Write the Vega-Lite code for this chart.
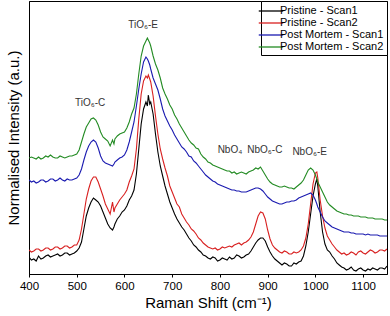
{
  "$schema": "https://vega.github.io/schema/vega-lite/v6.json",
  "width": 358,
  "height": 273,
  "autosize": {"type": "none"},
  "padding": {"left": 29, "top": 1, "right": 3, "bottom": 42},
  "config": {
    "view": {"stroke": "#000000", "strokeWidth": 1},
    "font": "Liberation Sans"
  },
  "datasets": {
    "spectra": [
      {"x":400,"P1":17,"P2":24,"M1":94,"M2":116},
      {"x":405,"P1":14,"P2":22,"M1":92,"M2":117},
      {"x":410,"P1":15,"P2":23,"M1":93,"M2":116},
      {"x":415,"P1":13,"P2":25,"M1":91,"M2":115},
      {"x":420,"P1":18,"P2":25,"M1":92,"M2":117},
      {"x":425,"P1":15,"P2":23,"M1":94,"M2":115},
      {"x":430,"P1":16,"P2":24,"M1":94,"M2":116},
      {"x":435,"P1":18,"P2":26,"M1":92,"M2":118},
      {"x":440,"P1":19,"P2":26,"M1":93,"M2":117},
      {"x":445,"P1":17,"P2":24,"M1":95,"M2":119},
      {"x":450,"P1":18,"P2":25,"M1":95,"M2":117},
      {"x":455,"P1":19,"P2":27,"M1":93,"M2":116},
      {"x":460,"P1":20,"P2":27,"M1":94,"M2":116},
      {"x":465,"P1":18,"P2":25,"M1":96,"M2":118},
      {"x":470,"P1":19,"P2":26,"M1":94,"M2":117},
      {"x":475,"P1":21,"P2":28,"M1":93,"M2":116},
      {"x":480,"P1":21,"P2":28,"M1":95,"M2":117},
      {"x":485,"P1":19,"P2":26,"M1":94,"M2":118},
      {"x":490,"P1":20,"P2":27,"M1":94,"M2":118},
      {"x":495,"P1":21,"P2":29,"M1":95,"M2":119},
      {"x":500,"P1":23,"P2":29,"M1":96,"M2":120},
      {"x":505,"P1":26,"P2":34,"M1":99,"M2":124},
      {"x":510,"P1":32,"P2":45,"M1":105,"M2":132},
      {"x":515,"P1":45,"P2":60,"M1":114,"M2":140},
      {"x":520,"P1":58,"P2":75,"M1":122,"M2":147},
      {"x":525,"P1":66,"P2":85,"M1":128,"M2":151},
      {"x":530,"P1":72,"P2":93,"M1":132,"M2":155},
      {"x":535,"P1":76,"P2":97,"M1":134,"M2":156},
      {"x":540,"P1":74,"P2":97,"M1":132,"M2":154},
      {"x":545,"P1":72,"P2":92,"M1":126,"M2":149},
      {"x":550,"P1":68,"P2":85,"M1":118,"M2":142},
      {"x":555,"P1":62,"P2":78,"M1":113,"M2":137},
      {"x":560,"P1":56,"P2":70,"M1":111,"M2":135},
      {"x":565,"P1":50,"P2":65,"M1":110,"M2":133},
      {"x":570,"P1":46,"P2":60,"M1":109,"M2":128},
      {"x":575,"P1":44,"P2":72,"M1":108,"M2":134},
      {"x":578,"P1":47,"P2":62,"M1":110,"M2":130},
      {"x":580,"P1":50,"P2":66,"M1":112,"M2":135},
      {"x":585,"P1":55,"P2":70,"M1":114,"M2":138},
      {"x":590,"P1":58,"P2":74,"M1":116,"M2":140},
      {"x":595,"P1":62,"P2":77,"M1":117,"M2":141},
      {"x":600,"P1":64,"P2":80,"M1":119,"M2":142},
      {"x":605,"P1":68,"P2":84,"M1":124,"M2":146},
      {"x":610,"P1":74,"P2":92,"M1":132,"M2":152},
      {"x":615,"P1":78,"P2":98,"M1":142,"M2":160},
      {"x":620,"P1":84,"P2":105,"M1":152,"M2":166},
      {"x":625,"P1":100,"P2":125,"M1":168,"M2":180},
      {"x":630,"P1":125,"P2":155,"M1":185,"M2":200},
      {"x":635,"P1":150,"P2":180,"M1":200,"M2":218},
      {"x":640,"P1":165,"P2":193,"M1":212,"M2":228},
      {"x":645,"P1":172,"P2":198,"M1":217,"M2":233},
      {"x":648,"P1":168,"P2":196,"M1":215,"M2":236},
      {"x":650,"P1":179,"P2":199,"M1":213,"M2":234},
      {"x":653,"P1":170,"P2":195,"M1":209,"M2":231},
      {"x":655,"P1":172,"P2":192,"M1":205,"M2":228},
      {"x":660,"P1":160,"P2":178,"M1":196,"M2":218},
      {"x":665,"P1":140,"P2":158,"M1":190,"M2":210},
      {"x":670,"P1":122,"P2":140,"M1":184,"M2":204},
      {"x":675,"P1":108,"P2":125,"M1":175,"M2":196},
      {"x":680,"P1":98,"P2":115,"M1":165,"M2":186},
      {"x":685,"P1":88,"P2":106,"M1":158,"M2":180},
      {"x":690,"P1":80,"P2":98,"M1":153,"M2":175},
      {"x":695,"P1":72,"P2":88,"M1":148,"M2":169},
      {"x":700,"P1":66,"P2":82,"M1":144,"M2":165},
      {"x":705,"P1":60,"P2":76,"M1":139,"M2":159},
      {"x":710,"P1":55,"P2":70,"M1":135,"M2":155},
      {"x":715,"P1":51,"P2":67,"M1":131,"M2":150},
      {"x":720,"P1":47,"P2":60,"M1":127,"M2":146},
      {"x":725,"P1":44,"P2":56,"M1":125,"M2":142},
      {"x":730,"P1":40,"P2":52,"M1":122,"M2":138},
      {"x":735,"P1":36,"P2":49,"M1":118,"M2":134},
      {"x":740,"P1":33,"P2":45,"M1":117,"M2":131},
      {"x":745,"P1":29,"P2":43,"M1":113,"M2":129},
      {"x":750,"P1":27,"P2":40,"M1":111,"M2":126},
      {"x":755,"P1":24,"P2":36,"M1":108,"M2":125},
      {"x":760,"P1":22,"P2":34,"M1":105,"M2":120},
      {"x":765,"P1":19,"P2":31,"M1":102,"M2":117},
      {"x":770,"P1":18,"P2":29,"M1":99,"M2":115},
      {"x":775,"P1":16,"P2":27,"M1":97,"M2":112},
      {"x":780,"P1":15,"P2":26,"M1":95,"M2":111},
      {"x":785,"P1":17,"P2":25,"M1":93,"M2":109},
      {"x":790,"P1":16,"P2":26,"M1":92,"M2":108},
      {"x":795,"P1":13,"P2":24,"M1":90,"M2":107},
      {"x":800,"P1":14,"P2":25,"M1":89,"M2":106},
      {"x":805,"P1":16,"P2":27,"M1":88,"M2":105},
      {"x":810,"P1":15,"P2":26,"M1":87,"M2":104},
      {"x":815,"P1":14,"P2":27,"M1":86,"M2":103},
      {"x":820,"P1":17,"P2":28,"M1":85,"M2":103},
      {"x":825,"P1":15,"P2":27,"M1":84,"M2":101},
      {"x":830,"P1":16,"P2":29,"M1":84,"M2":102},
      {"x":835,"P1":19,"P2":30,"M1":83,"M2":100},
      {"x":840,"P1":18,"P2":31,"M1":83,"M2":101},
      {"x":845,"P1":16,"P2":29,"M1":82,"M2":102},
      {"x":850,"P1":17,"P2":31,"M1":82,"M2":101},
      {"x":855,"P1":19,"P2":32,"M1":82,"M2":100},
      {"x":860,"P1":20,"P2":34,"M1":83,"M2":102},
      {"x":865,"P1":23,"P2":37,"M1":84,"M2":103},
      {"x":870,"P1":27,"P2":42,"M1":85,"M2":104},
      {"x":875,"P1":31,"P2":50,"M1":86,"M2":106},
      {"x":880,"P1":34,"P2":58,"M1":86,"M2":105},
      {"x":885,"P1":36,"P2":62,"M1":85,"M2":107},
      {"x":890,"P1":36,"P2":61,"M1":83,"M2":103},
      {"x":895,"P1":33,"P2":55,"M1":80,"M2":99},
      {"x":900,"P1":27,"P2":44,"M1":77,"M2":95},
      {"x":905,"P1":22,"P2":35,"M1":75,"M2":92},
      {"x":910,"P1":18,"P2":29,"M1":73,"M2":90},
      {"x":915,"P1":15,"P2":26,"M1":72,"M2":89},
      {"x":920,"P1":13,"P2":24,"M1":71,"M2":88},
      {"x":925,"P1":11,"P2":22,"M1":70,"M2":87},
      {"x":930,"P1":9,"P2":21,"M1":70,"M2":87},
      {"x":935,"P1":11,"P2":23,"M1":71,"M2":88},
      {"x":940,"P1":10,"P2":22,"M1":72,"M2":87},
      {"x":945,"P1":8,"P2":20,"M1":72,"M2":86},
      {"x":950,"P1":8,"P2":20,"M1":73,"M2":86},
      {"x":955,"P1":11,"P2":22,"M1":73,"M2":85},
      {"x":960,"P1":10,"P2":21,"M1":74,"M2":87},
      {"x":965,"P1":12,"P2":22,"M1":76,"M2":89},
      {"x":970,"P1":13,"P2":24,"M1":77,"M2":91},
      {"x":975,"P1":18,"P2":28,"M1":78,"M2":94},
      {"x":980,"P1":28,"P2":36,"M1":79,"M2":99},
      {"x":985,"P1":42,"P2":50,"M1":80,"M2":104},
      {"x":990,"P1":60,"P2":70,"M1":81,"M2":106},
      {"x":995,"P1":78,"P2":90,"M1":79,"M2":104},
      {"x":1000,"P1":90,"P2":101,"M1":74,"M2":99},
      {"x":1003,"P1":95,"P2":102,"M1":70,"M2":95},
      {"x":1005,"P1":88,"P2":96,"M1":67,"M2":92},
      {"x":1010,"P1":62,"P2":74,"M1":62,"M2":87},
      {"x":1015,"P1":42,"P2":58,"M1":57,"M2":82},
      {"x":1020,"P1":30,"P2":46,"M1":53,"M2":77},
      {"x":1025,"P1":24,"P2":38,"M1":51,"M2":72},
      {"x":1030,"P1":22,"P2":34,"M1":49,"M2":69},
      {"x":1035,"P1":18,"P2":30,"M1":47,"M2":67},
      {"x":1040,"P1":15,"P2":27,"M1":46,"M2":65},
      {"x":1045,"P1":11,"P2":24,"M1":45,"M2":63},
      {"x":1050,"P1":9,"P2":22,"M1":44,"M2":62},
      {"x":1055,"P1":7,"P2":20,"M1":43,"M2":61},
      {"x":1060,"P1":6,"P2":21,"M1":42,"M2":60},
      {"x":1065,"P1":4,"P2":19,"M1":42,"M2":60},
      {"x":1070,"P1":5,"P2":20,"M1":42,"M2":59},
      {"x":1075,"P1":7,"P2":22,"M1":41,"M2":59},
      {"x":1080,"P1":4,"P2":21,"M1":41,"M2":58},
      {"x":1085,"P1":3,"P2":19,"M1":40,"M2":58},
      {"x":1090,"P1":5,"P2":22,"M1":40,"M2":58},
      {"x":1095,"P1":6,"P2":23,"M1":40,"M2":57},
      {"x":1100,"P1":4,"P2":21,"M1":40,"M2":57},
      {"x":1105,"P1":3,"P2":20,"M1":39,"M2":57},
      {"x":1110,"P1":5,"P2":22,"M1":40,"M2":56},
      {"x":1115,"P1":4,"P2":24,"M1":39,"M2":56},
      {"x":1120,"P1":6,"P2":23,"M1":39,"M2":56},
      {"x":1125,"P1":5,"P2":21,"M1":39,"M2":55},
      {"x":1130,"P1":4,"P2":22,"M1":39,"M2":55},
      {"x":1135,"P1":6,"P2":24,"M1":38,"M2":55},
      {"x":1140,"P1":6,"P2":24,"M1":38,"M2":55},
      {"x":1145,"P1":5,"P2":23,"M1":38,"M2":54},
      {"x":1150,"P1":8,"P2":25,"M1":38,"M2":54}
    ],
    "labels": [
      {"x":528,"y":171,"text":"TiO₆-C"},
      {"x":639,"y":249,"text":"TiO₆-E"},
      {"x":821,"y":124,"text":"NbO₄"},
      {"x":894,"y":124,"text":"NbO₆-C"},
      {"x":988,"y":122,"text":"NbO₆-E"}
    ]
  },
  "layer": [
    {
      "data": {"name": "spectra"},
      "transform": [
        {"fold": ["P1", "P2", "M1", "M2"], "as": ["series", "y"]}
      ],
      "mark": {"type": "line", "strokeWidth": 1.1, "clip": true},
      "encoding": {
        "x": {
          "field": "x", "type": "quantitative",
          "scale": {"domain": [400, 1150], "nice": false},
          "axis": {
            "title": "Raman Shift (cm⁻¹)",
            "values": [400,450,500,550,600,650,700,750,800,850,900,950,1000,1050,1100],
            "format": "d",
            "labelExpr": "datum.value % 100 == 0 ? datum.label : ''",
            "labelFlush": false,
            "labelOverlap": false,
            "grid": false,
            "domainColor": "#000000",
            "tickColor": "#000000",
            "tickSize": 3,
            "labelFontSize": 11.5,
            "labelColor": "#000000",
            "labelPadding": 3,
            "titleFontSize": 15,
            "titleFontWeight": "normal",
            "titleColor": "#000000",
            "titlePadding": 4
          }
        },
        "y": {
          "field": "y", "type": "quantitative",
          "scale": {"domain": [0, 273], "nice": false},
          "axis": {
            "title": "Normalised Intensity (a.u.)",
            "ticks": false,
            "labels": false,
            "grid": false,
            "domainColor": "#000000",
            "titleFontSize": 15,
            "titleFontWeight": "normal",
            "titleColor": "#000000",
            "titlePadding": 8
          }
        },
        "color": {
          "field": "series", "type": "nominal",
          "scale": {
            "domain": ["P1", "P2", "M1", "M2"],
            "range": ["#000000", "#d82020", "#1a1ab0", "#238b23"]
          },
          "legend": {
            "title": null,
            "orient": "top-right",
            "offset": 0,
            "labelExpr": "{'P1':'Pristine - Scan1','P2':'Pristine - Scan2','M1':'Post Mortem - Scan1','M2':'Post Mortem - Scan2'}[datum.value]",
            "symbolType": "M-2,0H2",
            "symbolSize": 150,
            "symbolStrokeWidth": 1.3,
            "labelFontSize": 11,
            "labelColor": "#000000",
            "labelOffset": 2,
            "rowPadding": 0,
            "padding": 3,
            "strokeColor": "#000000",
            "fillColor": "#ffffff",
            "cornerRadius": 0
          }
        },
        "order": {"field": "x", "type": "quantitative"}
      }
    },
    {
      "data": {"name": "labels"},
      "mark": {"type": "text", "fontSize": 10, "color": "#333333", "baseline": "middle", "align": "center"},
      "encoding": {
        "x": {"field": "x", "type": "quantitative"},
        "y": {"field": "y", "type": "quantitative"},
        "text": {"field": "text"}
      }
    }
  ]
}
